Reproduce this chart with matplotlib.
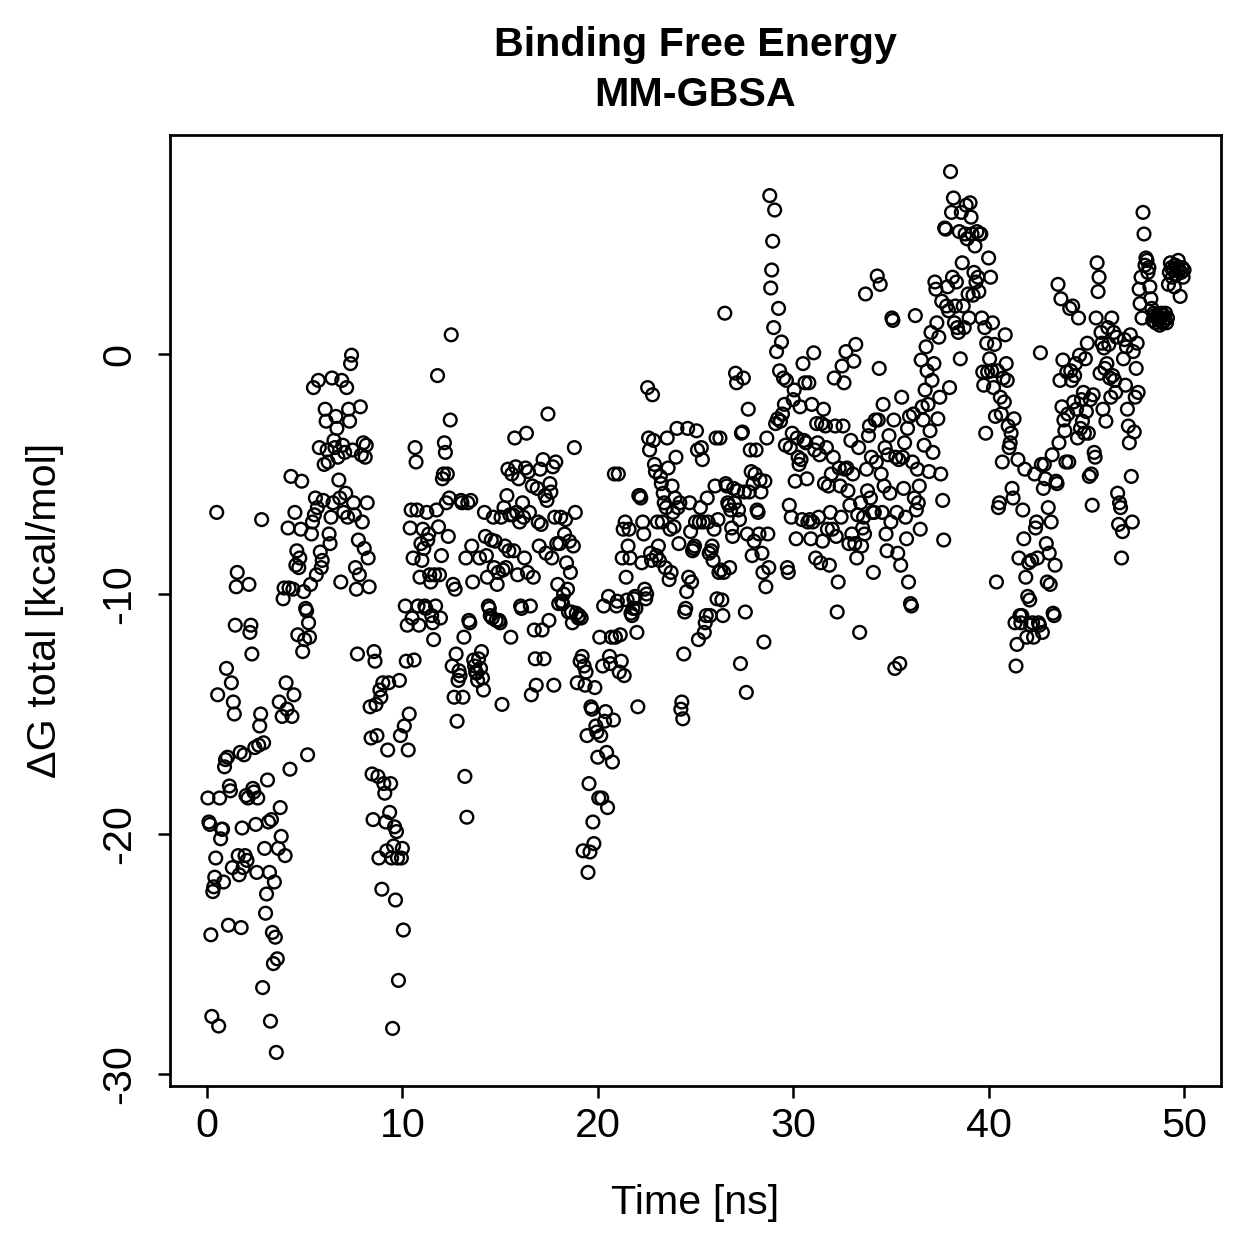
import matplotlib
matplotlib.use("Agg")
import matplotlib.pyplot as plt
import numpy as np

plt.rcParams["font.family"] = ["Liberation Sans", "DejaVu Sans"]
plt.rcParams["axes.unicode_minus"] = False

# MM-GBSA delta G total [kcal/mol], one frame every 0.05 ns (20 frames per ns)
dg_00_10 = [
    -18.5, -19.5, -19.6, -24.2, -27.6, -22.4, -22.2, -21.8, -21.0, -6.6, -14.2, -28.0, -18.5, -20.2, -19.8, -19.8, -22.0, -17.2, -16.9, -13.1,
    -16.8, -23.8, -18.0, -18.2, -13.7, -21.4, -14.5, -15.0, -11.3, -9.7, -9.1, -20.9, -21.7, -16.6, -23.9, -19.75, -21.4, -16.7, -20.9, -18.4,
    -21.1, -18.5, -9.6, -11.6, -11.3, -12.5, -18.1, -18.25, -16.4, -19.6, -21.6, -18.5, -16.3, -15.5, -15.0, -6.9, -26.4, -16.2, -20.6, -23.3,
    -22.5, -17.75, -19.5, -21.6, -27.8, -19.4, -24.1, -25.4, -22.0, -24.3, -29.1, -25.2, -20.6, -14.5, -18.9, -20.1, -15.1, -10.2, -9.75, -20.9,
    -13.7, -14.8, -7.25, -9.75, -17.3, -5.1, -15.1, -9.8, -14.2, -6.6, -8.8, -8.2, -11.7, -8.9, -8.5, -7.3, -5.3, -12.4, -9.9, -11.9,
    -10.6, -10.7, -16.7, -11.2, -11.8, -9.6, -7.5, -7.0, -1.4, -6.7, -6.0, -9.2, -6.4, -1.1, -3.9, -8.25, -8.9, -8.6, -6.1, -4.6,
    -2.3, -2.8, -4.0, -4.5, -7.5, -7.9, -6.8, -1.0, -6.2, -3.6, -3.9, -2.6, -3.1, -4.3, -5.25, -6.0, -9.5, -1.1, -3.8, -6.6,
    -4.1, -5.8, -1.4, -6.8, -2.3, -2.8, -0.4, -0.05, -4.0, -6.2, -6.7, -8.9, -9.8, -12.5, -7.75, -9.2, -2.2, -4.2, -7.0, -3.7,
    -8.1, -4.3, -3.8, -6.2, -8.5, -9.7, -14.7, -16.0, -17.5, -19.4, -12.4, -12.8, -14.6, -15.9, -17.6, -21.0, -14.0, -14.3, -22.3, -13.7,
    -17.9, -18.3, -19.5, -20.7, -16.5, -13.7, -19.1, -17.9, -21.0, -28.1, -20.5, -19.7, -22.75, -19.9, -21.0, -26.1, -13.6, -15.9, -21.0, -20.6,
]
dg_10_20 = [
    -24.0, -15.5, -10.5, -12.8, -11.3, -16.5, -15.0, -7.25, -6.5, -11.0, -8.5, -12.75, -3.9, -4.5, -6.5, -10.5, -11.3, -9.3, -7.9, -8.6,
    -7.3, -8.1, -10.5, -10.6, -6.6, -7.75, -7.5, -9.2, -9.5, -10.9, -11.2, -11.9, -9.2, -10.5, -6.5, -0.9, -7.2, -9.2, -11.0, -8.4,
    -5.2, -5.0, -3.7, -4.1, -6.2, -5.0, -7.6, -6.0, -2.75, 0.8, -13.0, -9.6, -14.3, -9.8, -12.5, -15.3, -13.6, -13.2, -13.4, -6.1,
    -6.2, -14.3, -11.8, -17.6, -8.5, -19.3, -6.2, -11.1, -11.2, -6.1, -8.0, -9.5, -12.75, -13.0, -13.25, -13.3, -13.6, -12.7, -8.5, -13.1,
    -12.4, -13.5, -14.0, -6.6, -7.6, -8.4, -9.3, -10.5, -10.6, -10.9, -7.75, -11.0, -6.8, -8.9, -7.8, -11.1, -9.6, -9.1, -11.1, -11.2,
    -6.8, -14.6, -9.0, -6.4, -8.0, -8.9, -5.9, -4.8, -8.2, -6.7, -11.8, -5.0, -6.7, -8.2, -3.5, -4.7, -6.6, -9.2, -5.2, -7.0,
    -10.5, -10.6, -6.2, -6.8, -8.5, -4.75, -3.3, -9.1, -4.9, -6.6, -10.5, -14.2, -5.5, -9.3, -11.5, -12.7, -13.8, -5.6, -7.0, -8.0,
    -4.8, -7.1, -11.5, -4.4, -12.7, -5.9, -8.3, -6.1, -2.5, -11.1, -5.4, -5.75, -8.5, -4.7, -13.8, -6.8, -4.5, -7.9, -9.6, -10.4,
    -7.9, -6.8, -10.3, -10.4, -10.0, -7.5, -6.9, -8.7, -9.8, -10.75, -7.8, -9.1, -10.75, -11.2, -8.0, -3.9, -6.6, -10.8, -13.7, -11.0,
    -10.9, -12.8, -11.0, -12.6, -20.7, -13.0, -13.8, -13.25, -15.9, -21.6, -17.9, -20.75, -14.7, -14.8, -19.5, -20.4, -13.9, -15.5, -15.75, -16.8,
]
dg_20_30 = [
    -18.5, -11.8, -15.9, -18.5, -13.0, -10.5, -15.3, -14.9, -16.6, -18.9, -10.1, -12.6, -12.9, -11.8, -17.0, -15.25, -5.0, -11.8, -10.5, -10.3,
    -5.0, -13.25, -11.7, -12.8, -8.5, -7.3, -13.4, -7.0, -9.3, -10.25, -8.0, -7.3, -8.5, -10.8, -10.9, -10.6, -10.2, -10.1, -10.6, -11.6,
    -14.7, -5.9, -5.9, -6.0, -8.7, -7.0, -7.5, -9.8, -10.2, -10.0, -1.4, -3.5, -4.0, -8.3, -8.6, -1.7, -3.6, -4.6, -4.9, -8.4,
    -7.0, -8.0, -8.6, -5.1, -5.4, -7.0, -5.8, -6.2, -8.9, -6.4, -3.5, -4.75, -9.4, -7.3, -9.1, -5.5, -6.6, -7.2, -6.0, -4.3,
    -3.1, -6.4, -7.9, -6.2, -14.8, -14.5, -15.2, -12.5, -10.75, -10.6, -9.9, -3.1, -9.3, -6.2, -7.4, -9.5, -8.2, -8.1, -8.0, -7.0,
    -3.2, -4.0, -11.9, -7.0, -6.4, -3.9, -4.4, -7.0, -11.6, -11.2, -10.9, -6.0, -7.0, -8.3, -10.9, -8.2, -8.0, -8.6, -7.3, -5.5,
    -3.5, -10.2, -6.9, -9.1, -3.5, -9.0, -10.25, -10.9, -9.1, 1.7, -5.4, -5.5, -6.2, -6.3, -8.9, -6.5, -7.25, -7.6, -5.6, -6.2,
    -0.8, -1.2, -5.7, -6.5, -6.9, -12.9, -3.3, -3.25, -1.0, -5.75, -10.75, -14.1, -7.5, -2.3, -5.75, -4.0, -4.9, -8.4, -5.4, -7.8,
    -5.0, -4.0, -6.5, -6.6, -7.5, -5.25, -5.75, -8.3, -9.1, -12.0, -5.3, -9.7, -3.5, -7.5, -8.9, 6.6, 2.75, 3.5, 4.7, 1.1,
    6.0, -2.9, 0.1, -2.7, 1.9, -0.7, -2.8, 0.5, -2.5, -1.0, -2.1, -3.8, -1.1, -8.9, -9.1, -6.3, -3.9, -6.8, -3.3, -1.9,
]
dg_30_40 = [
    -1.5, -5.3, -7.7, -3.5, -4.3, -4.6, -2.2, -4.4, -6.9, -0.4, -3.6, -1.2, -3.7, -5.2, -7.0, -1.2, -6.9, -7.7, -2.1, -7.0,
    0.05, -4.0, -8.5, -2.9, -3.7, -6.8, -4.2, -8.7, -2.9, -7.8, -2.3, -5.4, -3.0, -3.9, -7.3, -5.5, -8.8, -6.6, -5.0, -7.3,
    -4.3, -1.0, -3.0, -7.6, -10.75, -9.5, -4.75, -5.5, -6.8, -0.5, -3.0, -1.2, -4.8, 0.1, -4.75, -5.7, -7.9, -6.3, -3.6, -7.5,
    -5.0, -0.3, -7.9, 0.4, -8.5, -6.7, -3.9, -11.6, -6.2, -8.0, -7.25, -6.8, -7.5, 2.5, -4.8, -5.7, -3.4, -3.0, -6.0, -4.3,
    -6.6, -9.1, -6.6, -2.75, -4.5, 3.25, -2.75, -0.6, 2.9, -5.0, -6.6, -2.1, -5.5, -3.9, -7.5, -8.2, -4.2, -3.4, -5.8, -7.0,
    1.5, 1.4, -2.75, -13.1, -4.3, -6.6, -8.3, -4.4, -12.9, -8.8, -1.8, -4.3, -5.6, -3.7, -6.8, -7.7, -3.1, -9.5, -2.6, -10.4,
    -10.5, -4.5, -2.5, -6.0, 1.6, -6.5, -4.8, -6.2, -5.5, -7.3, -0.25, -2.2, -2.75, -3.8, -1.5, 0.3, -0.7, -2.1, -4.9, -3.2,
    0.9, -1.1, -4.1, -0.4, 3.0, 2.7, 1.3, -2.7, 0.7, -1.8, -5.0, 2.2, -6.1, -7.75, 5.25, 5.2, 2.0, 2.8, 1.8, -1.4,
    7.6, 5.9, 3.2, 6.5, 1.3, 2.0, 3.0, 1.1, 0.9, 5.1, -0.2, 5.9, 3.8, 2.0, 1.1, 5.0, 6.2, 4.8, 2.5, 1.5,
    6.3, 5.7, 5.0, 2.45, 3.4, 4.5, 3.0, 5.1, 3.2, 2.6, 5.0, 5.0, 1.5, -0.75, -1.3, 1.1, -3.3, 0.45, -0.75, 4.0,
]
dg_40_50 = [
    -0.2, 3.2, -0.7, 1.3, -1.4, 0.4, -2.6, -9.5, -0.7, -6.4, -6.2, -1.8, -2.5, -4.5, -1.0, -2.0, 0.8, -0.4, -1.1, -3.0,
    -3.9, -3.7, -3.3, -5.6, -6.0, -2.7, -11.2, -13.0, -12.1, -4.4, -8.5, -10.9, -11.2, -10.9, -6.5, -7.7, -4.8, -9.3, -11.8, -10.1,
    -8.7, -10.25, -11.3, -8.6, -11.2, -11.8, -5.0, -7.25, -7.0, -8.5, -11.2, -11.3, 0.05, -4.6, -11.6, -5.6, -4.6, -5.2, -7.9, -9.5,
    -6.4, -8.3, -9.6, -7.0, -4.2, -10.8, -10.9, -8.8, -5.3, -5.4, 2.9, -3.7, -1.1, 2.3, -2.2, -0.25, -2.75, -3.2, -4.5, -0.75,
    -2.5, -4.5, 1.9, -0.7, -1.1, 2.0, -2.0, -0.9, -0.4, -2.3, -3.5, 1.5, -0.05, -3.1, -1.9, -2.8, -1.6, -3.3, -0.2, -2.4,
    0.45, -3.3, -5.1, -1.9, -5.0, -6.3, -1.7, -4.1, -4.3, 1.5, 3.8, 2.6, 3.2, -0.8, 0.9, 0.45, -2.3, 0.25, -0.6, -2.8,
    -0.4, 1.1, 0.4, -1.0, -1.8, 1.5, -0.9, 0.9, -1.1, -1.6, 0.7, -5.8, -7.1, -6.2, -6.4, -8.5, -7.4, -0.2, 0.6, -1.3,
    0.3, -2.3, -3.0, -3.7, 0.8, -5.1, -7.0, 0.1, -3.25, -1.8, -0.6, 0.45, -1.6, 2.7, 2.1, 3.2, 1.5, 5.9, 5.0, 3.7,
    4.0, 3.9, 3.4, 3.6, 2.8, 2.3, 1.9, 1.4, 1.7, 1.6, 1.3, 1.5, 1.6, 1.4, 1.2, 1.5, 1.7, 1.3, 1.6, 1.4,
    1.7, 1.3, 1.5, 2.9, 3.4, 3.8, 3.6, 3.2, 3.5, 2.8, 3.7, 3.3, 3.6, 3.9, 3.5, 2.4, 3.4, 3.6, 3.2, 3.5,
]

dg_total = np.concatenate([dg_00_10, dg_10_20, dg_20_30, dg_30_40, dg_40_50])
time_ns = np.arange(1, len(dg_total) + 1) * 0.05

W = 1259
fig = plt.figure(figsize=(W / 180, W / 180), dpi=180)
ax = fig.add_axes([170 / W, 1 - 1086 / W, (1221 - 170) / W, (1086 - 135) / W])

ax.scatter(time_ns, dg_total, s=26, facecolors="none", edgecolors="black", linewidths=0.95)

ax.set_xlim(-1.89, 51.89)
ax.set_ylim(-30.5, 9.125)
ax.set_xticks([0, 10, 20, 30, 40, 50])
ax.set_yticks([-30, -20, -10, 0])
for sp in ax.spines.values():
    sp.set_linewidth(1.1)
ax.tick_params(direction="out", length=4.8, width=1.0, labelsize=16.5)
ax.tick_params(axis="x", pad=3.5)
ax.tick_params(axis="y", pad=8, labelrotation=90)
for lab in ax.get_yticklabels():
    lab.set_va("center")

ax.set_xlabel("Time [ns]", fontsize=16.5, va="center")
ax.xaxis.set_label_coords(0.5, (1086 - 1203) / (1086 - 135))
ax.set_ylabel("ΔG total [kcal/mol]", fontsize=16.5, va="center")
ax.yaxis.set_label_coords((45 - 170) / (1221 - 170), 0.5)

cx = (170 + 1221) / 2 / W
fig.text(cx, 1 - 45 / W, "Binding Free Energy", ha="center", va="center",
         fontsize=16.5, weight="bold")
fig.text(cx, 1 - 95 / W, "MM-GBSA", ha="center", va="center",
         fontsize=16.5, weight="bold")

fig.savefig("out.png", dpi=180)
